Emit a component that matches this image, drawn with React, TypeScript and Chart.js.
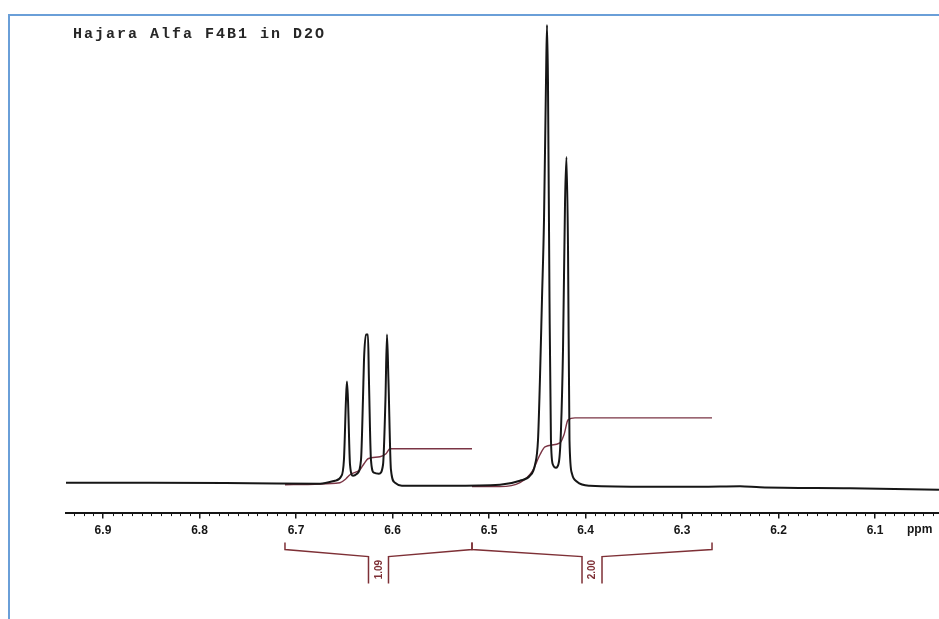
import React, { useEffect, useRef } from "react";
import { Chart, registerables } from "chart.js";

Chart.register(...registerables);

const TITLE = "Hajara Alfa F4B1 in D2O";
const AXIS_UNIT = "ppm";
const X_MIN = 6.0337;
const X_MAX = 6.9383;
const Y_MIN = 0;
const Y_MAX = 100;

const TICK_VALUES = [6.9, 6.8, 6.7, 6.6, 6.5, 6.4, 6.3, 6.2, 6.1];
const TICK_LABELS = ["6.9", "6.8", "6.7", "6.6", "6.5", "6.4", "6.3", "6.2", "6.1"];

// 1H spectrum trace (ppm, relative intensity)
const SPECTRUM_PPM = [
  6.9383, 6.8513, 6.7477, 6.6751, 6.6596, 6.6534, 6.6503, 6.6482, 6.6472, 6.6461,
  6.644, 6.6409, 6.6368, 6.6326, 6.6306, 6.6295, 6.6275, 6.6254, 6.6244, 6.6223,
  6.6192, 6.614, 6.6098, 6.6073, 6.6057, 6.6042, 6.6016, 6.5974, 6.5902, 6.5404,
  6.4886, 6.4679, 6.4575, 6.4523, 6.4492, 6.4472, 6.4451, 6.443, 6.4409, 6.4399,
  6.4389, 6.4373, 6.4358, 6.4337, 6.4306, 6.4275, 6.4254, 6.4233, 6.4212, 6.4197,
  6.4181, 6.4166, 6.414, 6.4088, 6.3953, 6.3332, 6.2813, 6.2399, 6.2192, 6.1259,
  6.0337,
];
const SPECTRUM_INT = [
  6.0, 6.0, 5.9, 5.8, 6.4, 7.2, 10.6, 22.6, 26.3, 22.6,
  9.6, 7.4, 7.8, 10.6, 22.6, 30.7, 35.7, 35.7, 26.7, 10.6,
  8.0, 7.8, 9.6, 22.6, 35.7, 26.7, 8.6, 6.0, 5.4, 5.4,
  5.6, 6.4, 7.4, 9.6, 14.6, 26.7, 42.7, 58.7, 86.8, 97.8,
  86.8, 42.7, 14.6, 9.6, 9.0, 10.2, 16.6, 32.7, 62.3, 71.3,
  52.7, 14.6, 7.8, 6.2, 5.4, 5.2, 5.2, 5.3, 5.1, 4.9,
  4.6,
];

// integral curves
const INTEGRAL1_PPM = [6.7114, 6.6544, 6.6482, 6.644, 6.6337, 6.6295, 6.6254, 6.613, 6.6067, 6.6026, 6.5176];
const INTEGRAL1_INT = [5.6, 6.0, 6.8, 7.6, 8.6, 9.8, 10.8, 11.2, 11.8, 12.8, 12.8];
const INTEGRAL2_PPM = [6.5176, 6.4886, 6.4679, 6.4554, 6.4472, 6.442, 6.4264, 6.4223, 6.4181, 6.4109, 6.2689];
const INTEGRAL2_INT = [5.2, 5.2, 6.0, 8.2, 11.6, 13.2, 14.0, 15.6, 18.6, 19.0, 19.0];

// integration regions and values
const REGION_FROM = [6.7114, 6.5176];
const REGION_TO = [6.5176, 6.2689];
const REGION_VALUES = ["1.09", "2.00"];

const INK = "#161616";
const INTEGRAL_COLOR = "#7a3444";
const BRACKET_COLOR = "#7e3036";

const toPoints = (xs: number[], ys: number[]) => xs.map((x, i) => ({ x, y: ys[i] }));

const decorPlugin = {
  id: "nmrDecor",
  afterDraw(chart: any) {
    const { ctx, chartArea } = chart;
    const xs = chart.scales.x;
    const axisY = chartArea.bottom;
    ctx.save();

    // minor ticks every 0.01 ppm
    ctx.strokeStyle = INK;
    ctx.lineWidth = 1;
    const start = Math.ceil(X_MIN * 100);
    const end = Math.floor(X_MAX * 100);
    for (let i = start; i <= end; i++) {
      if (i % 10 === 0) continue;
      const px = Math.round(xs.getPixelForValue(i / 100)) + 0.5;
      ctx.beginPath();
      ctx.moveTo(px, axisY);
      ctx.lineTo(px, axisY + 3.5);
      ctx.stroke();
    }

    // axis unit
    ctx.fillStyle = INK;
    ctx.font = "bold 12px 'Liberation Sans', Arial, sans-serif";
    ctx.textAlign = "left";
    ctx.textBaseline = "middle";
    ctx.fillText(AXIS_UNIT, 907, axisY + 17);

    // title
    ctx.font = "bold 15px 'Liberation Mono', 'DejaVu Sans Mono', monospace";
    (ctx as any).letterSpacing = "2px";
    ctx.textBaseline = "alphabetic";
    ctx.fillStyle = "#262626";
    ctx.fillText(TITLE, 73, 38);
    (ctx as any).letterSpacing = "0px";

    // integration brackets
    ctx.strokeStyle = BRACKET_COLOR;
    ctx.lineWidth = 1.5;
    REGION_FROM.forEach((from, i) => {
      const x1 = xs.getPixelForValue(from);
      const x2 = xs.getPixelForValue(REGION_TO[i]);
      const cx = (x1 + x2) / 2;
      const hw = 10;
      const top = axisY + 30;
      const corner = axisY + 37;
      const notch = axisY + 44;
      const low = axisY + 71;
      ctx.beginPath();
      ctx.moveTo(x1, top);
      ctx.lineTo(x1, corner);
      ctx.lineTo(cx - hw, notch);
      ctx.lineTo(cx - hw, low);
      ctx.moveTo(cx + hw, low);
      ctx.lineTo(cx + hw, notch);
      ctx.lineTo(x2, corner);
      ctx.lineTo(x2, top);
      ctx.stroke();

      ctx.save();
      ctx.translate(cx + 0.5, axisY + 57);
      ctx.rotate(-Math.PI / 2);
      ctx.fillStyle = BRACKET_COLOR;
      ctx.font = "bold 10px 'Liberation Sans', Arial, sans-serif";
      ctx.textAlign = "center";
      ctx.textBaseline = "middle";
      ctx.fillText(REGION_VALUES[i], 0, 0);
      ctx.restore();
    });

    ctx.restore();
  },
};

export default function App() {
  const canvasRef = useRef<HTMLCanvasElement | null>(null);

  useEffect(() => {
    document.body.style.margin = "0";
    const canvas = canvasRef.current;
    if (!canvas) return;
    const chart = new Chart(canvas, {
      type: "line",
      data: {
        datasets: [
          {
            label: "spectrum",
            data: toPoints(SPECTRUM_PPM, SPECTRUM_INT),
            borderColor: INK,
            borderWidth: 2,
            pointRadius: 0,
            cubicInterpolationMode: "monotone",
          },
          {
            label: "integral 1",
            data: toPoints(INTEGRAL1_PPM, INTEGRAL1_INT),
            borderColor: INTEGRAL_COLOR,
            borderWidth: 1.4,
            pointRadius: 0,
            cubicInterpolationMode: "monotone",
          },
          {
            label: "integral 2",
            data: toPoints(INTEGRAL2_PPM, INTEGRAL2_INT),
            borderColor: INTEGRAL_COLOR,
            borderWidth: 1.4,
            pointRadius: 0,
            cubicInterpolationMode: "monotone",
          },
        ],
      },
      options: {
        responsive: false,
        animation: false,
        devicePixelRatio: 1,
        layout: { padding: { left: 66, right: 0, top: 14, bottom: 76 } },
        plugins: {
          legend: { display: false },
          tooltip: { enabled: false },
          title: { display: false },
        },
        scales: {
          x: {
            type: "linear",
            reverse: true,
            min: X_MIN,
            max: X_MAX,
            afterBuildTicks: (scale: any) => {
              scale.ticks = TICK_VALUES.map((v) => ({ value: v }));
            },
            border: { display: true, color: INK, width: 2 },
            grid: {
              drawOnChartArea: false,
              drawTicks: true,
              tickLength: 6,
              color: INK,
              lineWidth: 1.5,
            },
            ticks: {
              autoSkip: false,
              maxRotation: 0,
              padding: 5,
              color: INK,
              font: { family: "'Liberation Sans', Arial, sans-serif", size: 12, weight: "bold" },
              callback: (value: any) => {
                const idx = TICK_VALUES.findIndex((v) => Math.abs(v - Number(value)) < 1e-6);
                return idx >= 0 ? TICK_LABELS[idx] : "";
              },
            },
          },
          y: {
            display: false,
            min: Y_MIN,
            max: Y_MAX,
          },
        },
      },
      plugins: [decorPlugin],
    } as any);
    return () => chart.destroy();
  }, []);

  return (
    <div style={{ position: "fixed", left: 0, top: 0, width: 939, height: 619, background: "#fff", overflow: "hidden" }}>
      <canvas ref={canvasRef} width={939} height={619} style={{ display: "block", width: 939, height: 619 }} />
      <div
        style={{
          position: "absolute",
          left: 8,
          top: 14,
          width: 931,
          height: 605,
          borderTop: "2px solid #6a9fd8",
          borderLeft: "2px solid #6a9fd8",
          boxSizing: "border-box",
          pointerEvents: "none",
        }}
      />
    </div>
  );
}
